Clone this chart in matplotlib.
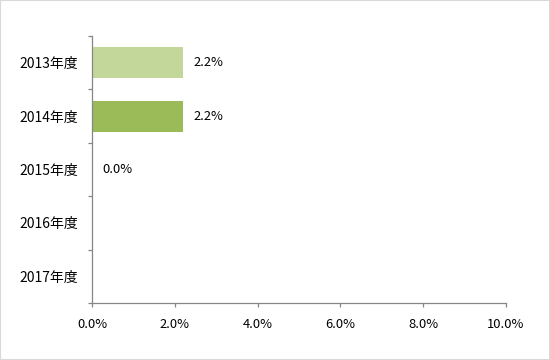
import matplotlib
matplotlib.use("Agg")
import matplotlib.pyplot as plt
from matplotlib.patches import Rectangle
from matplotlib.ticker import FuncFormatter

plt.rcParams['font.family'] = ['Noto Sans CJK JP', 'DejaVu Sans']

years = ['2013年度', '2014年度', '2015年度', '2016年度', '2017年度']
values = [2.2, 2.2, 0.0, None, None]
colors = ['#C4D79B', '#9BBB59', '#9BBB59', '#9BBB59', '#9BBB59']
xticks = [0, 2, 4, 6, 8, 10]

fig = plt.figure(figsize=(5.5, 3.6), dpi=100)
ax = fig.add_axes([92 / 550, 1 - 303 / 360, 414 / 550, 267 / 360])

pos = list(range(len(years)))
for i, (v, c) in enumerate(zip(values, colors)):
    if v is None:
        continue
    ax.barh(i, v, height=0.58, color=c)
    ax.text(v + 0.24, i, f'{v:.1f}%', va='center', ha='left', fontsize=9.3, color='black')

ax.set_xlim(0, 10)
ax.set_ylim(len(years) - 0.5, -0.5)
ax.set_xticks(xticks)
ax.xaxis.set_major_formatter(FuncFormatter(lambda x, p: f'{x:.1f}%'))
ax.set_yticks(pos)
ax.set_yticklabels(years)
ax.set_yticks([i - 0.5 for i in range(len(years) + 1)], minor=True)

for s in ['top', 'right']:
    ax.spines[s].set_visible(False)
for s in ['left', 'bottom']:
    ax.spines[s].set_color('#868686')
    ax.spines[s].set_linewidth(0.9)

ax.tick_params(axis='y', which='major', length=0, pad=10, labelsize=10)
ax.tick_params(axis='y', which='minor', length=3, color='#868686', width=0.9)
ax.tick_params(axis='x', length=3, color='#868686', width=0.9, pad=8, labelsize=9.3)

fig.patches.append(Rectangle((0, 0), 1, 1, transform=fig.transFigure,
                             fill=False, edgecolor='#D9D9D9', linewidth=1.5))

fig.savefig('out.png', dpi=100)
